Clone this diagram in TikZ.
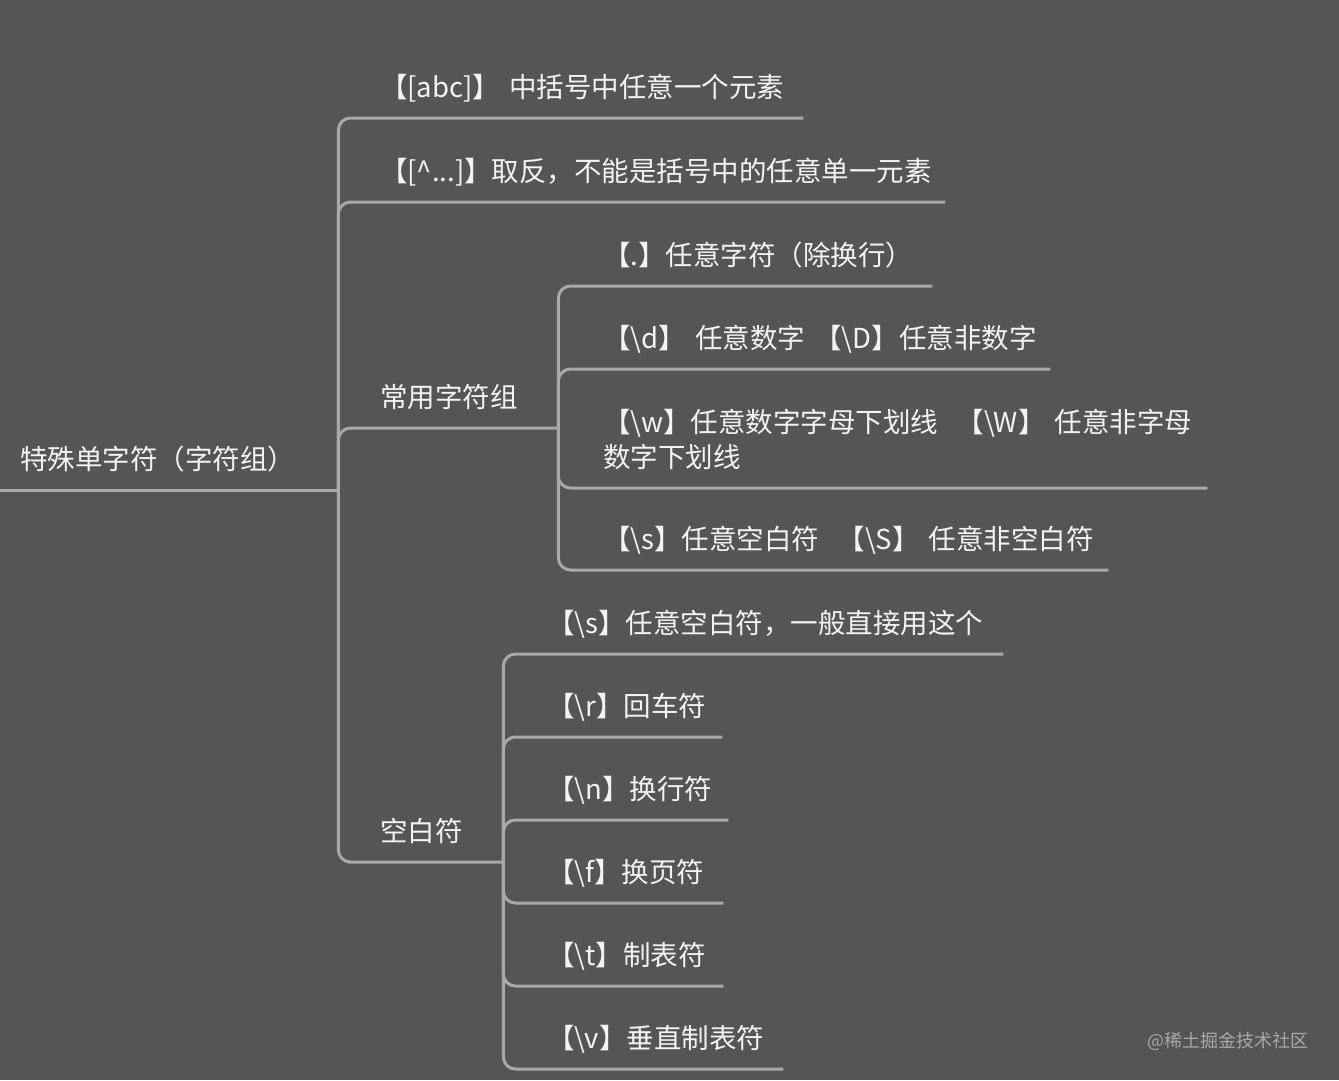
\documentclass[tikz,border=0pt]{standalone}
\usepackage{fontspec}
\newfontfamily\cjkfont{Noto Sans CJK SC}
\usepackage{tikz}
\usetikzlibrary{positioning}
\definecolor{mm-bg}{HTML}{555654}
\definecolor{mm-line}{HTML}{A9AAA8}
\definecolor{mm-text}{HTML}{F3F3F3}
\definecolor{mm-mark}{HTML}{A8A8A8}

\begin{document}
\begin{tikzpicture}[x=1pt, y=-1pt,
    topic/.style={anchor=south west, inner xsep=20pt, inner ysep=0pt, text depth=20pt,
        align=left, text=mm-text, font=\cjkfont\fontsize{27.5}{35}\selectfont},
    branch/.style={draw=mm-line, line width=3pt, rounded corners=12pt}]
    % Canvas
    \fill[mm-bg] (0,0) rectangle (1339,1080);
    \useasboundingbox (0,0) rectangle (1339,1080);

    % Root
    \node[topic, text width=298pt] (root) at (0,490) {特殊单字符（字符组）};

    % Level 1
    \node[topic, text width=403pt] (abc) at (360,118) {【[abc]】~中括号中任意一个元素};
    \node[topic, text width=545pt] (neg) at (360,202) {【[\textasciicircum...]】取反，不能是括号中的任意单一元素};
    \node[topic, text width=158pt] (common) at (360,428) {常用字符组};
    \node[topic, text width=103pt] (blank) at (360,862) {空白符};

    % Common groups
    \node[topic, text width=309pt] (dot) at (583,286) {【.】任意字符（除换行）};
    \node[topic, text width=427pt] (digit) at (583,369) {【\textbackslash d】~任意数字~【\textbackslash D】任意非数字};
    \node[topic, text width=584pt, text depth=55pt] (word) at (583,488) {【\textbackslash w】任意数字字母下划线~~【\textbackslash W】~任意非字母\\数字下划线};
    \node[topic, text width=485pt] (space) at (583,570) {【\textbackslash s】任意空白符~~【\textbackslash S】~任意非空白符};

    % Whitespace
    \node[topic, text width=436pt] (sany) at (527,654) {【\textbackslash s】任意空白符，一般直接用这个};
    \node[topic, text width=155pt] (cr) at (527,737) {【\textbackslash r】回车符};
    \node[topic, text width=161pt] (lf) at (527,820) {【\textbackslash n】换行符};
    \node[topic, text width=156pt] (ff) at (527,903) {【\textbackslash f】换页符};
    \node[topic, text width=156pt] (tab) at (527,986) {【\textbackslash t】制表符};
    \node[topic, text width=216pt] (vtab) at (527,1069) {【\textbackslash v】垂直制表符};

    % Edges
    \draw[branch] (root.south west) -- (root.south east);
    \draw[branch] (root.south east) |- (abc.south west) -- (abc.south east);
    \draw[branch] (root.south east) |- (neg.south west) -- (neg.south east);
    \draw[branch] (root.south east) |- (common.south west) -- (common.south east);
    \draw[branch] (root.south east) |- (blank.south west) -- (blank.south east);
    \draw[branch] (common.south east) |- (dot.south west) -- (dot.south east);
    \draw[branch] (common.south east) |- (digit.south west) -- (digit.south east);
    \draw[branch] (common.south east) |- (word.south west) -- (word.south east);
    \draw[branch] (common.south east) |- (space.south west) -- (space.south east);
    \draw[branch] (blank.south east) |- (sany.south west) -- (sany.south east);
    \draw[branch] (blank.south east) |- (cr.south west) -- (cr.south east);
    \draw[branch] (blank.south east) |- (lf.south west) -- (lf.south east);
    \draw[branch] (blank.south east) |- (ff.south west) -- (ff.south east);
    \draw[branch] (blank.south east) |- (tab.south west) -- (tab.south east);
    \draw[branch] (blank.south east) |- (vtab.south west) -- (vtab.south east);

    % Watermark
    \node[anchor=base east, inner sep=0pt, text=mm-mark, font=\cjkfont\fontsize{18}{21}\selectfont] (mark) at (1309,1047) {@稀土掘金技术社区};
\end{tikzpicture}
\end{document}
